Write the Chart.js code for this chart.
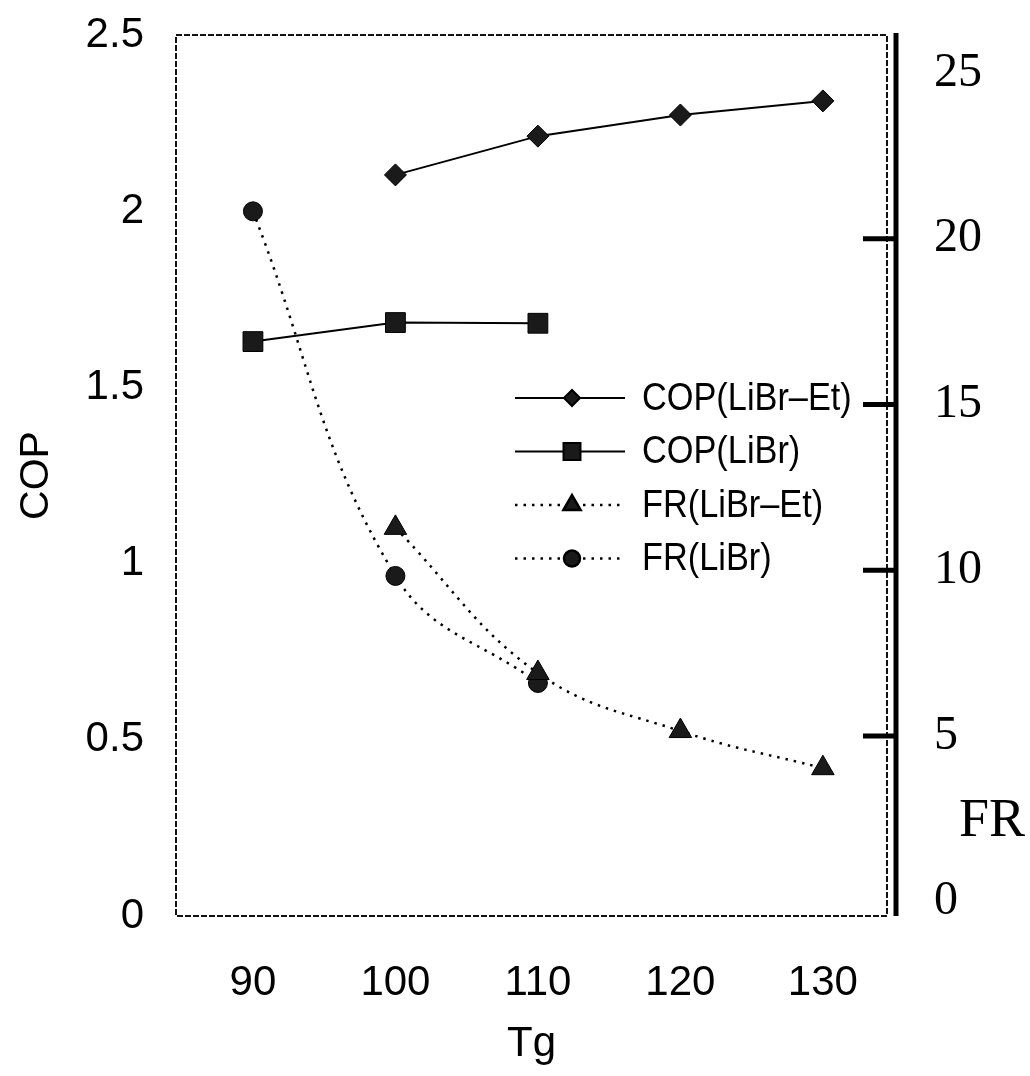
<!DOCTYPE html>
<html><head><meta charset="utf-8">
<script src="https://cdn.jsdelivr.net/npm/chart.js@4/dist/chart.umd.min.js"></script>
<style>html,body{margin:0;padding:0;background:#fff}#wrap{width:1030px;height:1076px;position:relative}</style>
</head><body><div id="wrap"><canvas id="c"></canvas></div>
<script>
// ---- data ----
const TG = [90, 100, 110, 120, 130];
const X_TICKS = [90, 100, 110, 120, 130];
const COP_TICKS = [0, 0.5, 1, 1.5, 2, 2.5];
const FR_TICKS = [0, 5, 10, 15, 20, 25];
const FR_MARKED = [5, 10, 15, 20];
const COP_LIBR_ET = [null, 2.103, 2.213, 2.273, 2.313];
const COP_LIBR = [1.630, 1.684, 1.682, null, null];
const FR_LIBR_ET = [null, 11.28, 6.9, 5.15, 4.03];
const FR_LIBR = [20.83, 9.83, 6.6, null, null];
const SERIES_LABELS = ['COP(LiBr\u2013Et)', 'COP(LiBr)', 'FR(LiBr\u2013Et)', 'FR(LiBr)'];

const toPts = arr => TG.map((x, i) => ({x: x, y: arr[i]})).filter(p => p.y !== null);

const SANS = '"Liberation Sans", Arial, sans-serif';
const SERIF = '"Liberation Serif", "Times New Roman", serif';

const framePlugin = {
  id: 'framePlugin',
  afterDatasetsDraw(chart) {
    const ctx = chart.ctx, a = chart.chartArea;
    const y2 = chart.scales.y2;
    ctx.save();
    // plot frame
    ctx.strokeStyle = '#111';
    ctx.lineWidth = 2;
    ctx.setLineDash([6, 2]);
    ctx.strokeRect(a.left, a.top, a.right - a.left, a.bottom - a.top);
    ctx.setLineDash([]);
    // right thick axis
    const ax = a.right + 9;
    ctx.strokeStyle = '#000';
    ctx.lineWidth = 5;
    ctx.beginPath();
    ctx.moveTo(ax, a.top - 2);
    ctx.lineTo(ax, a.bottom);
    ctx.stroke();
    FR_MARKED.forEach(v => {
      const y = y2.getPixelForValue(v);
      ctx.beginPath();
      ctx.moveTo(a.right - 24, y);
      ctx.lineTo(ax, y);
      ctx.stroke();
    });
    // FR axis title (horizontal)
    ctx.fillStyle = '#000';
    ctx.font = '54px ' + SERIF;
    ctx.textAlign = 'center';
    ctx.textBaseline = 'middle';
    ctx.fillText('FR', 992, 822);
    // legend inside plot
    const LX0 = 515, LX1 = 625, MX = 572, TX = 642, LY0 = 398, LDY = 53.5;
    chart.data.datasets.forEach((ds, i) => {
      const y = LY0 + i * LDY;
      ctx.strokeStyle = '#000';
      ctx.lineWidth = ds.borderWidth;
      ctx.setLineDash(ds.borderDash || []);
      ctx.beginPath();
      ctx.moveTo(LX0, y);
      ctx.lineTo(LX1, y);
      ctx.stroke();
      ctx.setLineDash([]);
      ctx.fillStyle = ds.pointBackgroundColor;
      ctx.strokeStyle = '#000';
      Chart.helpers.drawPoint(ctx, {pointStyle: ds.pointStyle, radius: ds.legendRadius, rotation: 0, borderWidth: 1}, MX, y);
      ctx.save();
      ctx.translate(TX, y + 1);
      ctx.scale(0.88, 1);
      ctx.fillStyle = '#000';
      ctx.font = '39px ' + SANS;
      ctx.textAlign = 'left';
      ctx.textBaseline = 'middle';
      ctx.fillText(ds.label, 0, 0);
      ctx.restore();
    });
    ctx.restore();
  }
};

const mk = (label, arr, axis, style, r, lr, dash, tension, w) => ({
  label: label, data: toPts(arr), yAxisID: axis,
  borderColor: '#000', borderWidth: w, borderDash: dash, tension: tension,
  pointStyle: style, pointRadius: r, pointHoverRadius: r,
  pointBackgroundColor: '#1a1a1a', pointBorderColor: '#000', pointBorderWidth: 1,
  legendRadius: lr, fill: false
});

const noPadV = s => { s.paddingTop = 0; s.paddingBottom = 0; };

new Chart(document.getElementById('c'), {
  type: 'line',
  data: {
    datasets: [
      mk(SERIES_LABELS[0], COP_LIBR_ET, 'y', 'rectRot', 11, 8, [], 0, 2),
      mk(SERIES_LABELS[1], COP_LIBR, 'y', 'rect', 14, 12, [], 0, 2),
      mk(SERIES_LABELS[2], FR_LIBR_ET, 'y2', 'triangle', 13, 10, [2.5, 6], 0.4, 2.5),
      mk(SERIES_LABELS[3], FR_LIBR, 'y2', 'circle', 9.5, 8, [2.5, 6], 0.4, 2.5)
    ]
  },
  options: {
    responsive: true, maintainAspectRatio: false, animation: false,
    layout: {padding: {top: 35, left: 0, right: 0, bottom: 0}},
    plugins: {legend: {display: false}, tooltip: {enabled: false}},
    scales: {
      x: {
        type: 'linear', position: 'bottom', min: 84.6, max: 134.5,
        afterBuildTicks: s => { s.ticks = X_TICKS.map(v => ({value: v})); },
        afterFit: s => { s.height = 160; s.paddingLeft = 0; s.paddingRight = 0; },
        grid: {display: false, drawTicks: false, tickLength: 0},
        border: {display: false},
        ticks: {font: {family: SANS, size: 42}, color: '#000', padding: 42, maxRotation: 0, callback: v => String(v)},
        title: {display: true, text: 'Tg', font: {family: SANS, size: 42}, color: '#000', padding: {top: 0, bottom: 6}}
      },
      y: {
        type: 'linear', position: 'left', min: 0, max: 2.5,
        afterBuildTicks: s => { s.ticks = COP_TICKS.map(v => ({value: v})); },
        afterFit: s => { s.width = 176; noPadV(s); },
        grid: {display: false, drawTicks: false, tickLength: 0},
        border: {display: false},
        ticks: {font: {family: SANS, size: 42}, color: '#000', padding: 32, callback: v => String(v)},
        title: {display: true, text: 'COP', font: {family: SANS, size: 41}, color: '#000', padding: {top: 12, bottom: 0}}
      },
      y2: {
        type: 'linear', position: 'right', min: -0.43, max: 26.15,
        afterBuildTicks: s => { s.ticks = FR_TICKS.map(v => ({value: v})); },
        afterFit: s => { s.width = 143; noPadV(s); },
        grid: {display: false, drawTicks: false, tickLength: 0},
        border: {display: false},
        ticks: {font: {family: SERIF, size: 48}, color: '#000', padding: 47, callback: v => String(v)}
      }
    }
  },
  plugins: [framePlugin]
});
</script>
</body></html>
